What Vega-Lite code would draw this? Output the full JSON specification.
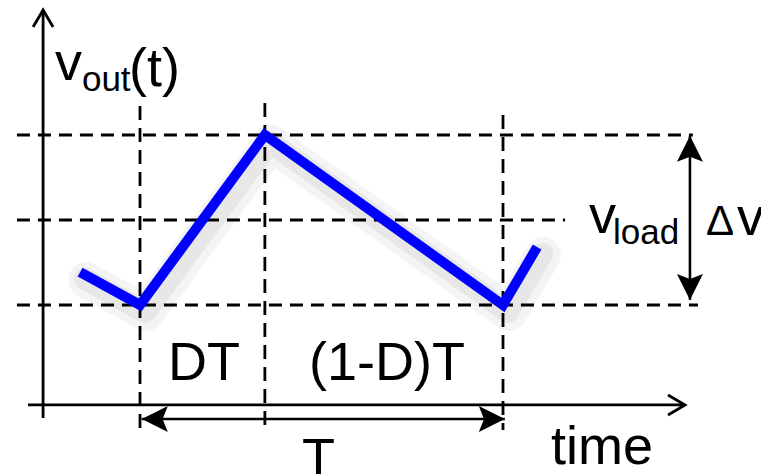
{
  "$schema": "https://vega.github.io/schema/vega-lite/v6.json",
  "width": 761,
  "height": 474,
  "padding": 0,
  "autosize": {"type": "none"},
  "background": "white",
  "config": {"view": {"stroke": null}},
  "datasets": {
    "trace": [
      {"t": -0.165, "v": 0.194},
      {"t": 0, "v": 0},
      {"t": 0.344, "v": 1},
      {"t": 1, "v": 0},
      {"t": 1.094, "v": 0.341}
    ],
    "levels": [
      {"name": "vmax", "t": -0.339, "t2": 1.523, "v": 1},
      {"name": "vload", "t": -0.339, "t2": 1.171, "v": 0.5},
      {"name": "vmin", "t": -0.339, "t2": 1.537, "v": 0}
    ],
    "edges": [
      {"name": "start", "t": 0, "v": 1.171, "v2": -0.753},
      {"name": "switch", "t": 0.344, "v": 1.188, "v2": -0.735},
      {"name": "end", "t": 1, "v": 1.118, "v2": -0.735}
    ],
    "axes": [
      {"name": "v axis", "t": -0.267, "t2": -0.267, "v": -0.665, "v2": 1.735},
      {"name": "time axis", "t": -0.3085, "t2": 1.5014, "v": -0.588, "v2": -0.588}
    ],
    "axisTips": [
      {"name": "v axis", "t": -0.267, "v": 1.735, "heading": 0},
      {"name": "time axis", "t": 1.5014, "v": -0.588, "heading": 90}
    ],
    "spans": [
      {"name": "T", "t": 0.005, "t2": 1.005, "v": -0.6706, "v2": -0.6706},
      {"name": "dv", "t": 1.515, "t2": 1.515, "v": 0.995, "v2": 0.03}
    ],
    "spanTips": [
      {"name": "T", "t": 0.005, "v": -0.6706, "heading": 270},
      {"name": "T", "t": 1.005, "v": -0.6706, "heading": 90},
      {"name": "dv", "t": 1.515, "v": 0.995, "heading": 0},
      {"name": "dv", "t": 1.515, "v": 0.03, "heading": 180}
    ],
    "signalLabels": [
      {"text": "v", "t": -0.234, "v": 1.3235},
      {"text": "(t)", "t": -0.0303, "v": 1.288},
      {"text": "v", "t": 1.237, "v": 0.4235},
      {"text": "v", "t": 1.6446, "v": 0.4118},
      {"text": "time", "t": 1.132, "v": -0.935}
    ],
    "deltaLabel": [
      {"text": "Δ", "t": 1.559, "v": 0.4118}
    ],
    "intervalLabels": [
      {"text": "DT", "t": 0.1763, "v": -0.441},
      {"text": "(1-D)T", "t": 0.6804, "v": -0.441},
      {"text": "T", "t": 0.4917, "v": -1.006}
    ],
    "subLabels": [
      {"text": "out", "t": -0.16, "v": 1.2588},
      {"text": "load", "t": 1.303, "v": 0.3588}
    ]
  },
  "encoding": {
    "x": {"field": "t", "type": "quantitative", "axis": null,
          "scale": {"domain": [-0.38567, 1.71074], "nice": false, "zero": false}},
    "y": {"field": "v", "type": "quantitative", "axis": null,
          "scale": {"domain": [-0.99412, 1.79412], "nice": false, "zero": false}}
  },
  "layer": [
    {
      "data": {"name": "trace"},
      "mark": {"type": "line", "color": "#000000", "opacity": 0.045, "strokeWidth": 36,
               "strokeJoin": "round", "strokeCap": "round", "xOffset": 6, "yOffset": 8, "clip": false},
      "encoding": {"order": {"field": "t", "type": "quantitative"}}
    },
    {
      "data": {"name": "trace"},
      "mark": {"type": "line", "color": "#000000", "opacity": 0.05, "strokeWidth": 22,
               "strokeJoin": "round", "strokeCap": "round", "xOffset": 5, "yOffset": 7, "clip": false},
      "encoding": {"order": {"field": "t", "type": "quantitative"}}
    },
    {
      "data": {"name": "levels"},
      "mark": {"type": "rule", "color": "#000000", "strokeWidth": 2.8, "strokeDash": [13, 8], "clip": false},
      "encoding": {"x2": {"field": "t2"}}
    },
    {
      "data": {"name": "edges"},
      "mark": {"type": "rule", "color": "#000000", "strokeWidth": 2.8, "strokeDash": [14, 8], "clip": false},
      "encoding": {"y2": {"field": "v2"}}
    },
    {
      "data": {"name": "axes"},
      "mark": {"type": "rule", "color": "#000000", "strokeWidth": 2.8, "clip": false},
      "encoding": {"x2": {"field": "t2"}, "y2": {"field": "v2"}}
    },
    {
      "data": {"name": "axisTips"},
      "mark": {"type": "point", "shape": "M-1,1.7L0,0L1,1.7", "filled": false, "stroke": "#000000",
               "strokeWidth": 2.8, "size": 400, "opacity": 1, "clip": false},
      "encoding": {"angle": {"field": "heading", "type": "quantitative", "scale": null}}
    },
    {
      "data": {"name": "spans"},
      "mark": {"type": "rule", "color": "#000000", "strokeWidth": 2.6, "clip": false},
      "encoding": {"x2": {"field": "t2"}, "y2": {"field": "v2"}}
    },
    {
      "data": {"name": "spanTips"},
      "mark": {"type": "point", "shape": "M0,0L-1,2L0,1.6L1,2Z", "filled": true, "fill": "#000000",
               "strokeWidth": 0, "size": 676, "opacity": 1, "clip": false},
      "encoding": {"angle": {"field": "heading", "type": "quantitative", "scale": null}}
    },
    {
      "data": {"name": "trace"},
      "mark": {"type": "line", "color": "#0000FF", "strokeWidth": 10, "strokeJoin": "miter",
               "strokeCap": "butt", "clip": false},
      "encoding": {"order": {"field": "t", "type": "quantitative"}}
    },
    {
      "data": {"name": "signalLabels"},
      "mark": {"type": "text", "font": "Liberation Sans", "fontSize": 54, "align": "left",
               "baseline": "alphabetic", "color": "#000000", "clip": false},
      "encoding": {"text": {"field": "text"}}
    },
    {
      "data": {"name": "deltaLabel"},
      "mark": {"type": "text", "font": "Liberation Sans", "fontSize": 42, "align": "left",
               "baseline": "alphabetic", "color": "#000000", "clip": false},
      "encoding": {"text": {"field": "text"}}
    },
    {
      "data": {"name": "intervalLabels"},
      "mark": {"type": "text", "font": "Liberation Sans", "fontSize": 54, "align": "center",
               "baseline": "alphabetic", "color": "#000000", "clip": false},
      "encoding": {"text": {"field": "text"}}
    },
    {
      "data": {"name": "subLabels"},
      "mark": {"type": "text", "font": "Liberation Sans", "fontSize": 35, "align": "left",
               "baseline": "alphabetic", "color": "#000000", "clip": false},
      "encoding": {"text": {"field": "text"}}
    }
  ]
}
